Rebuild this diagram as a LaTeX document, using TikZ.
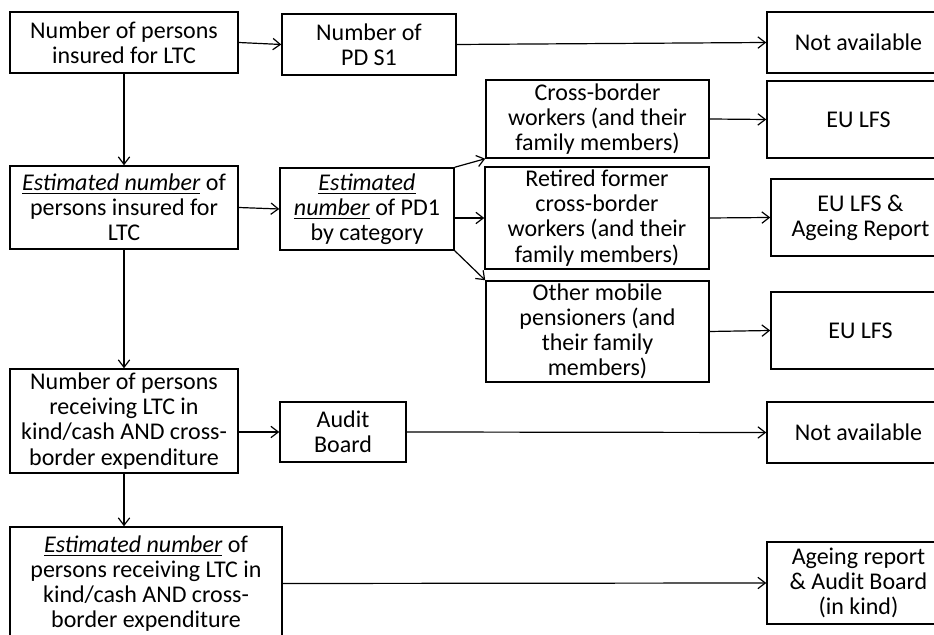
\documentclass[tikz,border=0pt]{standalone}
\usepackage{fontspec}
\setmainfont{Carlito}
\usetikzlibrary{positioning,arrows.meta}
\newcommand{\est}[1]{\underline{\textit{#1}}}

\begin{document}
\begin{tikzpicture}[x=0.5pt, y=-0.5pt,
    box/.style={draw, line width=0.75pt, align=center, inner xsep=1pt, inner ysep=0pt,
        font=\fontsize{12}{12.6}\selectfont},
    link/.style={-{Straight Barb[length=1.3mm,width=2mm]}, line width=0.6pt}]
    \useasboundingbox[fill=white] (0,0) rectangle (934,635);

    % left column
    \node[box, minimum width=114pt, minimum height=30.5pt] (insured) at (124,42.5) {Number of persons\\insured for LTC};
    \node[box, minimum width=114pt, minimum height=41.5pt] (estins) at (124,207.5) {\est{Estimated number} of\\persons insured for\\LTC};
    \node[box, minimum width=114pt, minimum height=52pt] (recv) at (124,421) {Number of persons\\receiving LTC in\\kind/cash AND cross-\\border expenditure};
    \node[box, minimum width=136pt, minimum height=56.5pt] (estrecv) at (146,583.5) {\est{Estimated number} of\\persons receiving LTC in\\kind/cash AND cross-\\border expenditure};

    % middle
    \node[box, minimum width=87pt, minimum height=30.5pt] (pds1) at (369,44.5) {Number of\\PD S1};
    \node[box, minimum width=87pt, minimum height=41pt] (pd1) at (367,209) {\est{Estimated}\\\est{number} of PD1\\by category};
    \node[box, minimum width=63pt, minimum height=30pt] (audit) at (343,432) {Audit\\Board};
    \node[box, minimum width=111.5pt, minimum height=39pt] (cbw) at (597.5,119) {Cross-border\\workers (and their\\family members)};
    \node[box, minimum width=112pt, minimum height=51pt] (ret) at (597,218) {Retired former\\cross-border\\workers (and their\\family members)};
    \node[box, minimum width=111.5pt, minimum height=50.5pt] (oth) at (597.5,331.5) {Other mobile\\pensioners (and\\their family\\members)};

    % sources
    \node[box, minimum width=91.5pt, minimum height=30.5pt] (na1) at (858.5,42.5) {Not available};
    \node[box, minimum width=91.5pt, minimum height=38.5pt] (lfs1) at (858.5,119.5) {EU LFS};
    \node[box, minimum width=89.5pt, minimum height=38.5pt] (lfsar) at (860.5,217.5) {EU LFS \&\\Ageing Report};
    \node[box, minimum width=89.5pt, minimum height=38.5pt] (lfs2) at (860.5,330.5) {EU LFS};
    \node[box, minimum width=91.5pt, minimum height=30.5pt] (na2) at (858.5,432.5) {Not available};
    \node[box, minimum width=91.5pt, minimum height=41pt] (arak) at (858.5,583) {Ageing report\\\& Audit Board\\(in kind)};

    \draw[link] (insured.east) -- (pds1.west);
    \draw[link] (pds1.east) -- (na1.west);
    \draw[link] (insured.south) -- (estins.north);
    \draw[link] (estins.east) -- (pd1.west);
    \draw[link] (estins.south) -- (recv.north);
    \draw[link] (pd1.north east) -- (cbw.south west);
    \draw[link] (pd1.east |- ret.west) -- (ret.west);
    \draw[link] (pd1.south east) -- (oth.north west);
    \draw[link] (cbw.east) -- (lfs1.west);
    \draw[link] (ret.east) -- (lfsar.west);
    \draw[link] (oth.east) -- (lfs2.west);
    \draw[link] (recv.east |- audit.west) -- (audit.west);
    \draw[link] (audit.east) -- (na2.west);
    \draw[link] (recv.south) -- (recv.south |- estrecv.north);
    \draw[link] (estrecv.east) -- (arak.west);
\end{tikzpicture}
\end{document}
